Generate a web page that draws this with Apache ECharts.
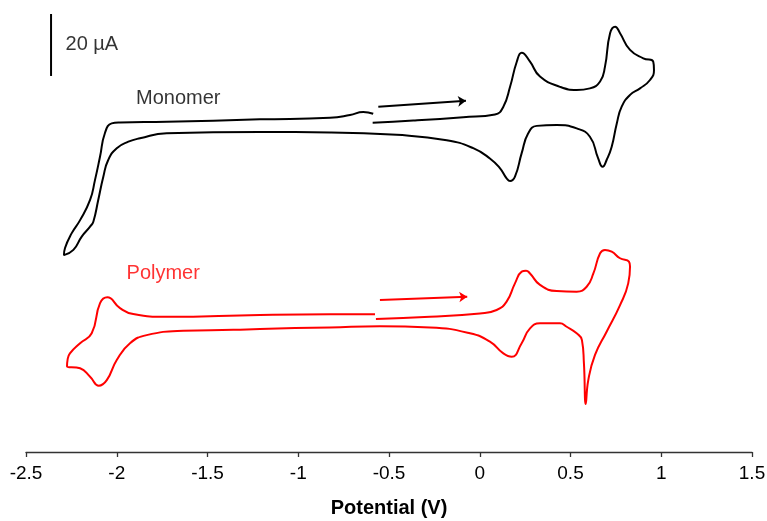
<!DOCTYPE html>
<html>
<head>
<meta charset="utf-8">
<script src="https://cdn.jsdelivr.net/npm/echarts@6/dist/echarts.min.js"></script>
<style>html,body{margin:0;padding:0;background:#fff}#c{width:767px;height:521px}</style>
</head>
<body>
<div id="c"></div>
<script>
// Potential (V) vs current (µA, vertically offset traces)
const monomerCV = [
  [-0.590,106.2],[-0.366,106.9],[-0.091,108.0],[0.084,108.9],[0.130,111.4],[0.167,117.8],[0.204,125.9],[0.231,128.8],
  [0.277,125.9],[0.332,121.1],[0.442,117.8],[0.534,116.8],[0.607,117.3],[0.663,119.5],[0.690,124.3],[0.718,135.1],
  [0.746,137.2],[0.773,135.1],[0.828,129.7],[0.901,127.0],[0.956,125.9],[0.960,123.2],[0.938,120.0],[0.883,117.3],
  [0.828,115.2],[0.782,111.4],[0.755,106.0],[0.727,98.5],[0.699,94.2],[0.677,92.0],[0.652,94.8],[0.607,101.7],
  [0.534,104.4],[0.424,105.5],[0.314,105.2],[0.267,102.8],[0.231,96.4],[0.194,88.8],[0.167,87.4],[0.148,88.3],
  [0.112,91.5],[0.056,94.7],[-0.036,98.0],[-0.182,100.6],[-0.458,102.3],[-0.825,103.1],[-1.211,103.2],[-1.725,102.8],
  [-1.872,101.2],[-1.936,100.1],[-2.000,98.0],[-2.047,94.2],[-2.074,88.8],[-2.102,81.3],[-2.129,74.3],[-2.147,72.7],
  [-2.193,69.5],[-2.239,65.2],[-2.291,63.5],[-2.285,65.8],[-2.248,70.6],[-2.202,74.8],[-2.147,81.3],[-2.120,87.7],
  [-2.092,95.3],[-2.065,102.9],[-2.028,106.0],[-1.982,106.3],[-1.725,106.5],[-1.211,107.3],[-0.825,107.8],[-0.715,108.7],
  [-0.642,109.7],[-0.587,109.1]
];
const polymerCV = [
  [-0.572,42.9],[-0.274,43.6],[0.001,44.7],[0.093,45.8],[0.148,48.5],[0.194,54.4],[0.231,58.2],[0.255,58.5],
  [0.277,57.6],[0.332,53.9],[0.424,51.9],[0.534,51.7],[0.589,53.3],[0.626,57.6],[0.663,64.1],[0.690,65.2],
  [0.727,64.6],[0.773,62.5],[0.822,61.4],[0.828,59.8],[0.818,54.4],[0.773,47.4],[0.699,38.8],[0.635,31.3],
  [0.598,23.2],[0.584,15.5],[0.574,28.6],[0.563,36.1],[0.534,38.3],[0.479,40.4],[0.442,41.5],[0.332,41.5],
  [0.277,39.9],[0.231,35.1],[0.176,30.7],[0.130,31.8],[0.056,35.6],[-0.054,38.3],[-0.274,40.2],[-0.550,40.6],
  [-0.825,40.2],[-1.211,39.7],[-1.358,39.4],[-1.633,39.1],[-1.835,37.7],[-1.927,35.1],[-2.000,29.7],[-2.055,23.2],
  [-2.099,21.4],[-2.147,24.3],[-2.202,27.0],[-2.274,27.7],[-2.271,29.7],[-2.258,31.8],[-2.202,35.1],[-2.138,38.3],
  [-2.092,48.0],[-2.052,49.9],[-1.982,46.4],[-1.909,44.5],[-1.725,43.6],[-1.211,44.2],[-0.825,44.4],[-0.577,44.4]
];
const monomerArrow = [[-0.559,111.4],[-0.076,113.3]];
const polymerArrow = [[-0.550,49.0],[-0.069,50.1]];
const scaleBar = [[-2.362,121.3],[-2.362,141.3]];
const scaleBarLabel = ['20 µA', -2.285, 131.3];
const traceLabels = [
  ['Monomer', -1.661, 113.9, '#000000'],
  ['Polymer', -1.744, 57.7, '#ff0000']
];
const xTicks = {min:-2.5, max:1.5, step:0.5};
const xTitle = 'Potential (V)';

const chart = echarts.init(document.getElementById('c'), null, {renderer:'canvas'});
const labelFont = 'Liberation Sans, Arial, sans-serif';
chart.setOption({
  animation:false,
  backgroundColor:'#ffffff',
  grid:{left:26, right:15, top:0, bottom:69, outerBoundsMode:'none'},
  xAxis:{
    type:'value', min:xTicks.min, max:xTicks.max, interval:xTicks.step,
    axisLine:{show:true, onZero:false, lineStyle:{color:'#333333', width:1.3}},
    axisTick:{show:true, length:5, lineStyle:{color:'#333333', width:1.3}},
    splitLine:{show:false},
    axisLabel:{color:'#000', fontSize:19, fontFamily:labelFont, margin:12},
    name:xTitle, nameLocation:'middle', nameGap:46,
    nameTextStyle:{color:'#000', fontSize:20, fontWeight:'bold', fontFamily:labelFont}
  },
  yAxis:{type:'value', min:0, max:452/3.1, show:false},
  series:[
    {type:'line', data:monomerCV, showSymbol:false, smooth:0.5, lineStyle:{color:'#000', width:2}, z:3},
    {type:'line', data:polymerCV, showSymbol:false, smooth:0.5, lineStyle:{color:'#ff0000', width:2}, z:3},
    {type:'line', data:scaleBar, showSymbol:false, lineStyle:{color:'#000', width:2}},
    {type:'lines', coordinateSystem:'cartesian2d', symbol:['none','arrow'], symbolSize:[6,8],
      lineStyle:{color:'#000', width:2, opacity:1}, data:[{coords:monomerArrow}]},
    {type:'lines', coordinateSystem:'cartesian2d', symbol:['none','arrow'], symbolSize:[6,8],
      lineStyle:{color:'#ff0000', width:2, opacity:1}, data:[{coords:polymerArrow}]},
    {type:'scatter', symbolSize:1, itemStyle:{color:'rgba(0,0,0,0)'},
      data:[{value:[scaleBarLabel[1], scaleBarLabel[2]], name:scaleBarLabel[0]}],
      label:{show:true, position:'right', distance:0, formatter:'{b}', color:'#000000', fontSize:20, fontFamily:labelFont}},
    {type:'scatter', symbolSize:1, itemStyle:{color:'rgba(0,0,0,0)'},
      data:traceLabels.map(t=>({value:[t[1],t[2]], name:t[0], label:{color:t[3]}})),
      label:{show:true, position:'inside', formatter:'{b}', fontSize:20, fontFamily:labelFont}}
  ]
});
</script>
</body>
</html>
